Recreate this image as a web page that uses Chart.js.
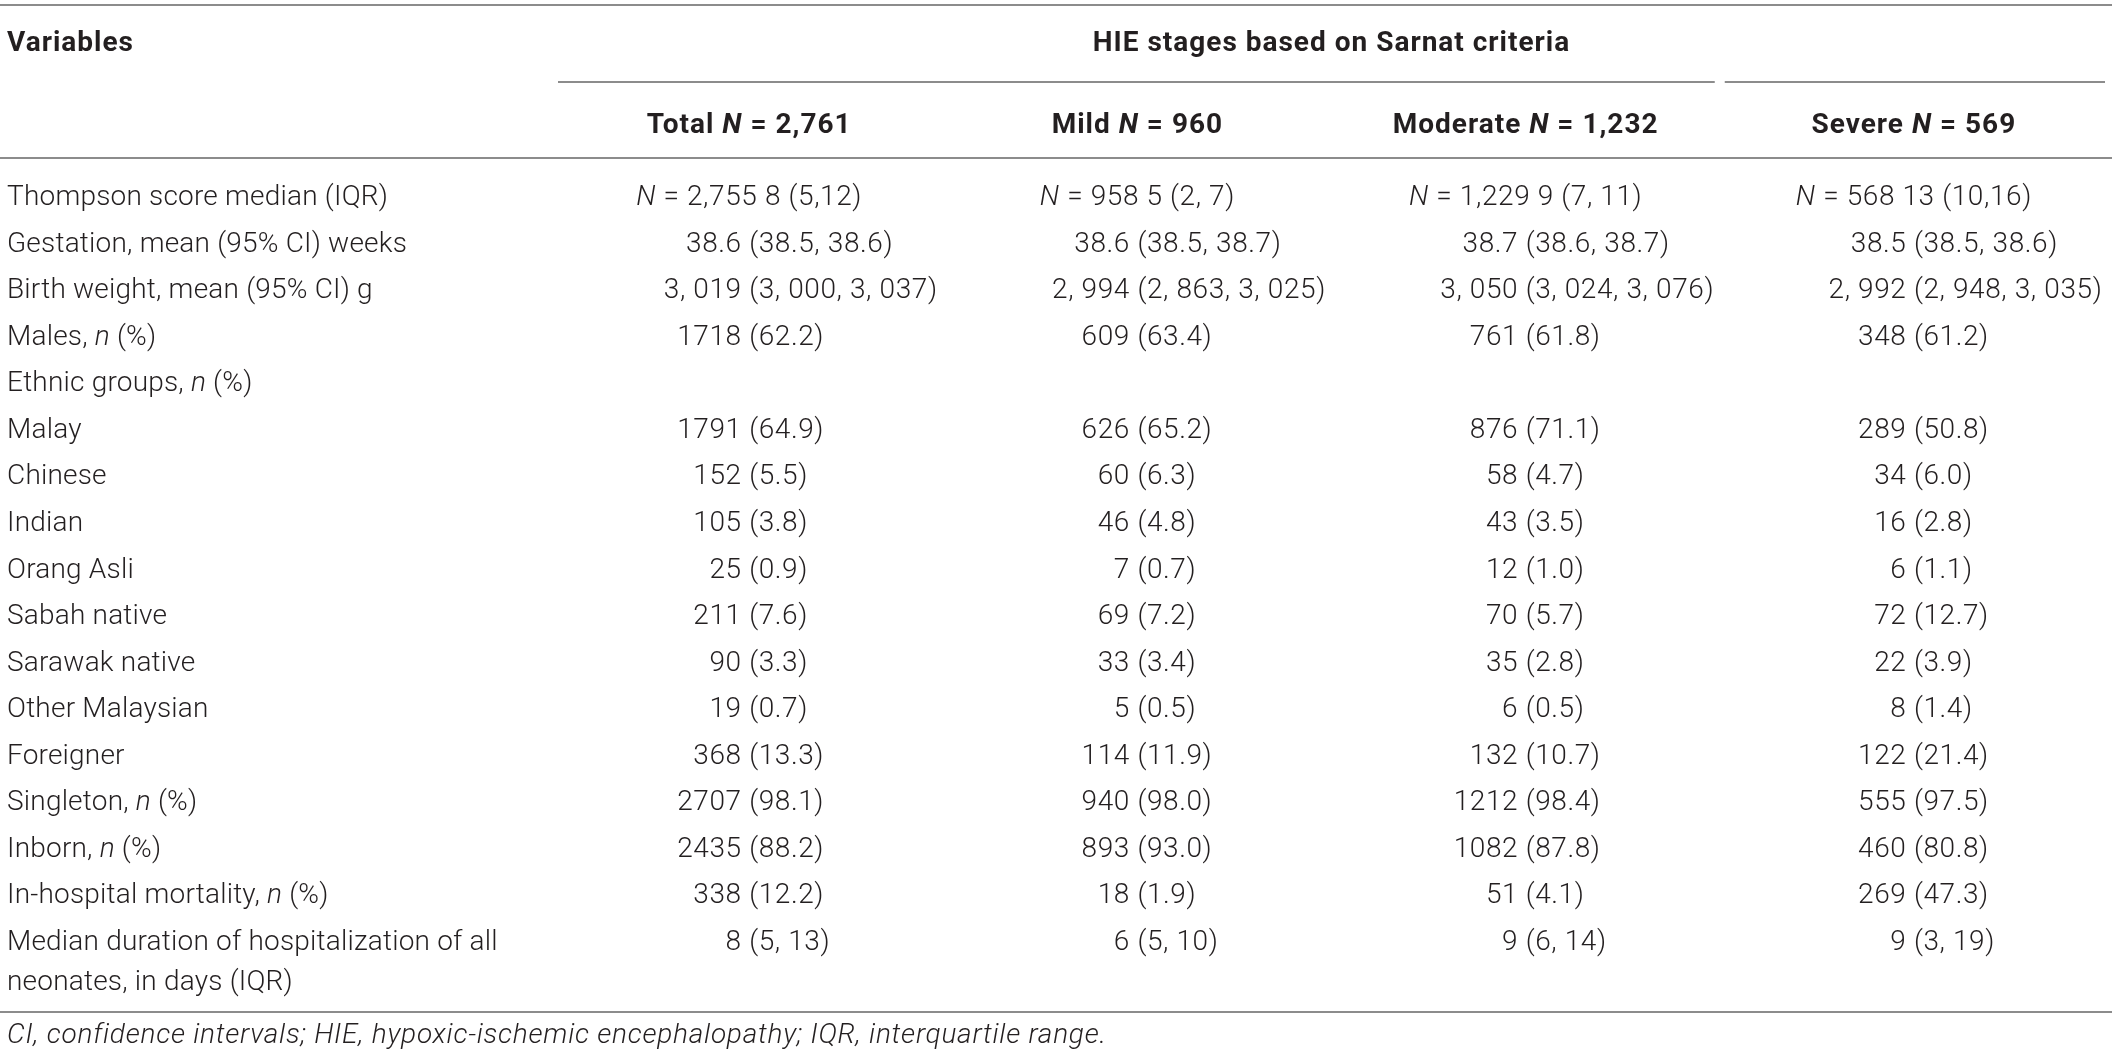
<!DOCTYPE html>
<html>
<head>
<meta charset="utf-8">
<title>HIE stages based on Sarnat criteria</title>
<script src="https://cdn.jsdelivr.net/npm/chart.js@4.4.1/dist/chart.umd.min.js"></script>
<style>
  html, body { margin: 0; padding: 0; background: #ffffff; }
  #wrap { width: 2118px; height: 1061px; position: relative; }
</style>
</head>
<body>
<div id="wrap"><canvas id="c"></canvas></div>
<script>
// ---------------- DATA ----------------
const firstColumnTitle = "Variables";
const groupTitle = "HIE stages based on Sarnat criteria";
const columnLabels = ["Total", "Mild", "Moderate", "Severe"];
const columnN = ["2,761", "960", "1,232", "569"];
const rowLabels = [
  "Thompson score median (IQR)",
  "Gestation, mean (95% CI) weeks",
  "Birth weight, mean (95% CI) g",
  "Males, *n* (%)",
  "Ethnic groups, *n* (%)",
  "Malay",
  "Chinese",
  "Indian",
  "Orang Asli",
  "Sabah native",
  "Sarawak native",
  "Other Malaysian",
  "Foreigner",
  "Singleton, *n* (%)",
  "Inborn, *n* (%)",
  "In-hospital mortality, *n* (%)",
  "Median duration of hospitalization of all\nneonates, in days (IQR)"
];
const totalValues = ["*N* = 2,755 8 (5,12)", "38.6 (38.5, 38.6)", "3, 019 (3, 000, 3, 037)", "1718 (62.2)", "", "1791 (64.9)", "152 (5.5)", "105 (3.8)", "25 (0.9)", "211 (7.6)", "90 (3.3)", "19 (0.7)", "368 (13.3)", "2707 (98.1)", "2435 (88.2)", "338 (12.2)", "8 (5, 13)"];
const mildValues = ["*N* = 958 5 (2, 7)", "38.6 (38.5, 38.7)", "2, 994 (2, 863, 3, 025)", "609 (63.4)", "", "626 (65.2)", "60 (6.3)", "46 (4.8)", "7 (0.7)", "69 (7.2)", "33 (3.4)", "5 (0.5)", "114 (11.9)", "940 (98.0)", "893 (93.0)", "18 (1.9)", "6 (5, 10)"];
const moderateValues = ["*N* = 1,229 9 (7, 11)", "38.7 (38.6, 38.7)", "3, 050 (3, 024, 3, 076)", "761 (61.8)", "", "876 (71.1)", "58 (4.7)", "43 (3.5)", "12 (1.0)", "70 (5.7)", "35 (2.8)", "6 (0.5)", "132 (10.7)", "1212 (98.4)", "1082 (87.8)", "51 (4.1)", "9 (6, 14)"];
const severeValues = ["*N* = 568 13 (10,16)", "38.5 (38.5, 38.6)", "2, 992 (2, 948, 3, 035)", "348 (61.2)", "", "289 (50.8)", "34 (6.0)", "16 (2.8)", "6 (1.1)", "72 (12.7)", "22 (3.9)", "8 (1.4)", "122 (21.4)", "555 (97.5)", "460 (80.8)", "269 (47.3)", "9 (3, 19)"];
const footnote = "*CI, confidence intervals; HIE, hypoxic-ischemic encephalopathy; IQR, interquartile range.*";

const columnValues = [totalValues, mildValues, moderateValues, severeValues];
const rowKeys = rowLabels.map(l => l.replace(/\*/g, ""));

// ---------------- STYLE ----------------
const FONT_FAMILY = "Roboto, 'Liberation Sans', Arial, sans-serif";
const FONT_SIZE = 28;
const BODY_WEIGHT = 300;
const BOLD_WEIGHT = 700;
const TEXT_COLOR = "#231f20";
const RULE_COLOR = "#8c8c8c";
const RULE_WIDTH = 2;
const BASELINE_SHIFT = 10;
const LABEL_X = 7;
const SPACING = { label: 0.2, cell: 0.6, head: 1.0, foot: 0.75 };

function segs(text) {
  return text.split("*").map((t, i) => ({ t, italic: i % 2 === 1 })).filter(s => s.t.length);
}
function fontFor(italic, weight) {
  return (italic ? "italic " : "") + weight + " " + FONT_SIZE + "px " + FONT_FAMILY;
}
function drawRich(ctx, text, x, y, align, weight, spacing) {
  ctx.letterSpacing = (spacing || 0) + "px";
  const parts = segs(text);
  const widths = parts.map(p => { ctx.font = fontFor(p.italic, weight); return ctx.measureText(p.t).width; });
  const total = widths.reduce((s, w) => s + w, 0);
  let start = x;
  if (align === "center") start = x - total / 2;
  else if (align === "right") start = x - total;
  else if (align === "paren") {
    let pre = 0, found = false;
    for (let i = 0; i < parts.length && !found; i++) {
      const k = parts[i].t.indexOf("(");
      ctx.font = fontFor(parts[i].italic, weight);
      if (k >= 0) { pre += ctx.measureText(parts[i].t.slice(0, k)).width; found = true; }
      else pre += widths[i];
    }
    start = found ? x - pre : x - total / 2;
  }
  let cx = start;
  parts.forEach((p, i) => {
    ctx.font = fontFor(p.italic, weight);
    ctx.fillText(p.t, cx, y);
    cx += widths[i];
  });
  ctx.letterSpacing = "0px";
}
function rule(ctx, x1, x2, y) {
  ctx.beginPath();
  ctx.moveTo(x1, y);
  ctx.lineTo(x2, y);
  ctx.stroke();
}

const tablePlugin = {
  id: "tableText",
  afterDatasetsDraw(chart) {
    const { ctx, chartArea: a, width } = chart;
    const xs = chart.scales.x, ys = chart.scales.y;
    ctx.save();
    ctx.fillStyle = TEXT_COLOR;
    ctx.textBaseline = "alphabetic";
    ctx.textAlign = "left";
    ctx.strokeStyle = RULE_COLOR;
    ctx.lineWidth = RULE_WIDTH;

    const anchors = columnLabels.map((_, i) => xs.getPixelForValue(i));

    // rules
    rule(ctx, 0, width - 6, a.top - 167);
    const split = (anchors[2] + anchors[3]) / 2;
    rule(ctx, a.left + 3, split - 5, a.top - 90);
    rule(ctx, split + 5, a.right - 3, a.top - 90);
    rule(ctx, 0, width - 6, a.top - 14);
    rule(ctx, 0, width - 6, a.bottom + 49);

    // header texts
    drawRich(ctx, firstColumnTitle, LABEL_X, a.top - 121, "left", BOLD_WEIGHT, SPACING.head);
    drawRich(ctx, groupTitle, (a.left + a.right) / 2, a.top - 121, "center", BOLD_WEIGHT, SPACING.head);
    columnLabels.forEach((c, i) => {
      drawRich(ctx, c + " *N* = " + columnN[i], anchors[i], a.top - 39, "center", BOLD_WEIGHT, SPACING.head);
    });

    // row labels
    rowLabels.forEach((lab, i) => {
      const y = ys.getPixelForValue(i) + BASELINE_SHIFT;
      lab.split("\n").forEach((line, k) => {
        drawRich(ctx, line, LABEL_X, y + k * 40, "left", BODY_WEIGHT, SPACING.label);
      });
    });

    // cells, positioned from the dataset points
    chart.data.datasets.forEach((ds, di) => {
      const meta = chart.getDatasetMeta(di);
      meta.data.forEach((pt, i) => {
        const txt = columnValues[di][i];
        if (!txt) return;
        const align = txt.indexOf("*N*") === 0 ? "center" : "paren";
        drawRich(ctx, txt, pt.x, pt.y + BASELINE_SHIFT, align, BODY_WEIGHT, SPACING.cell);
      });
    });

    // footnote
    drawRich(ctx, footnote, LABEL_X, a.bottom + 80, "left", BODY_WEIGHT, SPACING.foot);
    ctx.restore();
  }
};

new Chart(document.getElementById("c"), {
  type: "scatter",
  data: {
    datasets: columnLabels.map((c, ci) => ({
      label: c,
      data: rowKeys.map(r => ({ x: c, y: r })),
      pointRadius: 0,
      pointHoverRadius: 0,
      showLine: false
    }))
  },
  options: {
    responsive: true,
    maintainAspectRatio: false,
    animation: false,
    events: [],
    layout: { padding: { left: 555, right: 10, top: 172, bottom: 98 } },
    plugins: { legend: { display: false }, tooltip: { enabled: false }, title: { display: false } },
    scales: {
      x: { type: "category", labels: columnLabels, offset: true, display: false },
      y: { type: "category", labels: rowKeys, offset: true, display: false }
    }
  },
  plugins: [tablePlugin]
});
</script>
</body>
</html>
